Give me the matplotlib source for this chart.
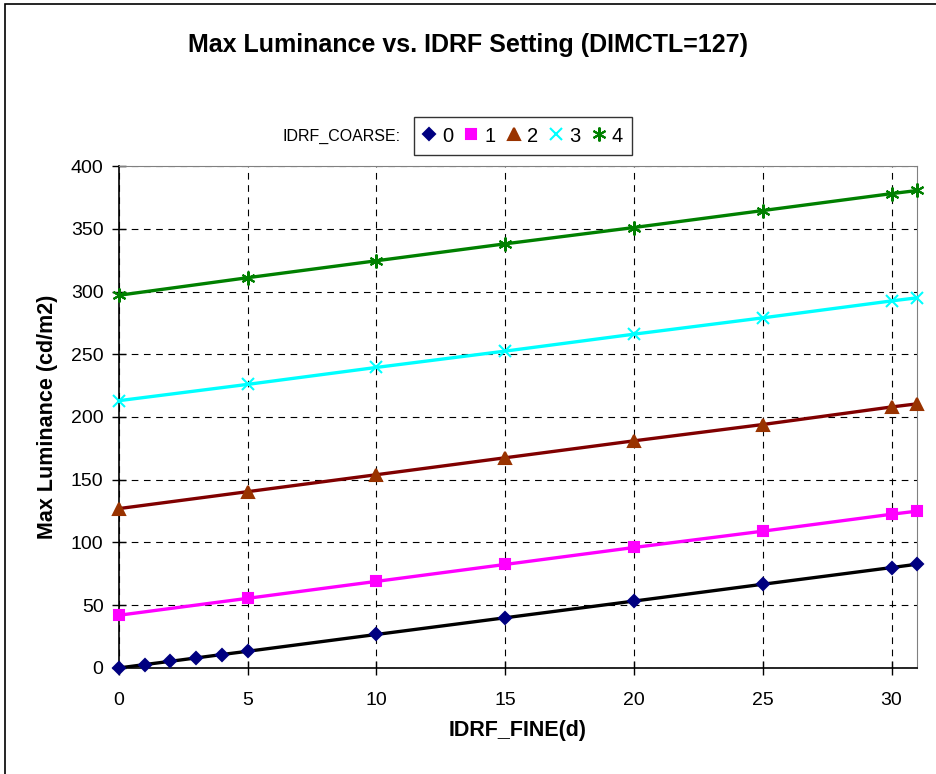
import numpy as np
from matplotlib import pyplot as plt
from matplotlib.patches import Rectangle

plt.rcParams['font.family'] = ['Liberation Sans', 'DejaVu Sans']

x0 = [0, 1, 2, 3, 4, 5, 10, 15, 20, 25, 30, 31]
xs = [0, 5, 10, 15, 20, 25, 30, 31]
y0 = [0, 2.7, 5.3, 8.0, 10.7, 13.3, 26.7, 40.0, 53.3, 66.7, 80.0, 82.7]
y1 = [42, 55.5, 69, 82.5, 96, 109, 122.5, 125]
y2 = [127, 140.5, 154, 167.5, 181, 194, 208, 210.5]
y3 = [213, 226, 239.5, 252.5, 266, 279, 292.5, 295]
y4 = [297, 311, 324.5, 338, 351, 364.5, 378, 380.5]

labels = ['0', '1', '2', '3', '4']
line_colors = ['black', '#ff00ff', '#800000', '#00ffff', '#008000']
marker_colors = ['#000080', '#ff00ff', '#993300', '#00ffff', '#008000']
markers = ['D', 's', '^', 'x', (6, 2, 0)]
msizes = [6, 7, 8, 9, 10]

fig = plt.figure(figsize=(9.36, 7.74), dpi=100)
fig.patches.append(Rectangle((5/936, -0.1), 1.2, 1 - 4/774 + 0.1, transform=fig.transFigure,
                             fill=False, edgecolor='black', linewidth=1.2))
ax = fig.add_axes([0.127, 0.137, 0.853, 0.6485])

series = [(x0, y0), (xs, y1), (xs, y2), (xs, y3), (xs, y4)]
handles = []
for i, (xx, yy) in enumerate(series):
    ax.plot(xx, yy, color=line_colors[i], linewidth=2.4, zorder=3)
    h, = ax.plot(xx, yy, linestyle='none', marker=markers[i], markersize=msizes[i],
                 color=marker_colors[i], markeredgecolor=marker_colors[i],
                 markeredgewidth=1.5, zorder=4, clip_on=False, label=labels[i])
    handles.append(h)

ax.set_xlim(0, 31)
ax.set_ylim(0, 400)
ax.set_xticks(np.arange(0, 31, 5))
ax.set_yticks(np.arange(0, 401, 50))
ax.grid(True, color='black', linestyle=(0, (6, 5)), linewidth=0.8)
ax.tick_params(labelsize=14, direction='inout', length=10, width=1)
ax.tick_params(axis='x', pad=12)
ax.tick_params(axis='y', pad=6)
for s in ['top', 'right']:
    ax.spines[s].set_color('#808080')
ax.spines['left'].set_linewidth(1.2)
ax.spines['bottom'].set_linewidth(1.2)

ax.set_xlabel('IDRF_FINE(d)', fontsize=15.5, fontweight='bold', labelpad=8)
ax.set_ylabel('Max Luminance (cd/m2)', fontsize=15.5, fontweight='bold', labelpad=9)
fig.text(0.5, 1 - 45/774, 'Max Luminance vs. IDRF Setting (DIMCTL=127)',
         ha='center', va='center', fontsize=18, fontweight='bold')

fig.text(401/936, 1 - 136/774, 'IDRF_COARSE:', ha='right', va='center', fontsize=11.5)
leg = fig.legend(handles=handles, loc='center left', bbox_to_anchor=(414/936, 1 - 136/774),
                 ncol=5, frameon=True, fancybox=False, edgecolor='black', fontsize=14.5,
                 handlelength=0.6, handletextpad=0.35, columnspacing=0.6, borderpad=0.45,
                 borderaxespad=0)
leg.get_frame().set_linewidth(1.0)

fig.savefig('out.png', dpi=100)
